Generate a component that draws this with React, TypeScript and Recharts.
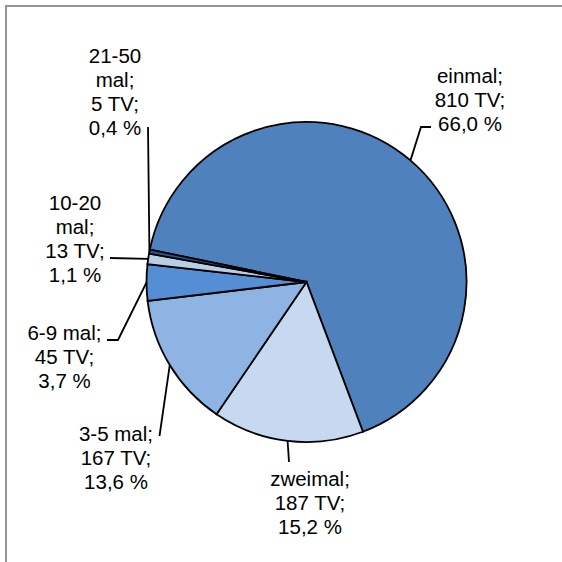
import { PieChart, Pie, Cell } from 'recharts'

const categories = ['einmal', 'zweimal', '3-5 mal', '6-9 mal', '10-20 mal', '21-50 mal']
const counts = [810, 187, 167, 45, 13, 5]
const colors = ['#4F81BD', '#C6D9F1', '#8EB4E3', '#558ED5', '#B9CDE5', '#2A5590']

// label placement relative to pie centre: text centre of first line + leader bend points
const labelLayout = [
  { tx: 163.5, ty: -207, wrap: false, leader: [[114.5, -155], [124.5, -155]] },
  { tx: 3.5, ty: 196, wrap: false, leader: [[-17.5, 180]] },
  { tx: -190.5, ty: 151, wrap: false, leader: [[-147, 154]] },
  { tx: -242, ty: 49.5, wrap: false, leader: [[-188.5, 58], [-199.5, 58]] },
  { tx: -231.5, ty: -80.5, wrap: true, leader: [[-196.5, -24]] },
  { tx: -191.5, ty: -227, wrap: true, leader: [[-158.5, -155]] },
]

const total = counts.reduce((a, b) => a + b, 0)
const data = categories.map((name, i) => ({ name, value: counts[i] }))

const RAD = Math.PI / 180
const LINE_H = 24
const FONT = 20.5

function renderLabel(props: any) {
  const { cx, cy, midAngle, outerRadius, index } = props
  const layout = labelLayout[index]
  const ex = cx + outerRadius * Math.cos(-midAngle * RAD)
  const ey = cy + outerRadius * Math.sin(-midAngle * RAD)
  const pts = [[ex, ey], ...layout.leader.map(([x, y]) => [cx + x, cy + y])]
  const d = pts.map((p, i) => (i === 0 ? 'M' : 'L') + p[0] + ',' + p[1]).join(' ')

  const name = categories[index]
  const pct = ((counts[index] / total) * 100).toFixed(1).replace('.', ',') + ' %'
  const nameLines = layout.wrap ? [name.split(' ')[0], name.split(' ')[1] + ';'] : [name + ';']
  const lines = [...nameLines, counts[index] + ' TV;', pct]
  const x = cx + layout.tx
  const y = cy + layout.ty

  return (
    <g>
      <path d={d} stroke="#000" strokeWidth={1.8} fill="none" />
      <text
        x={x}
        y={y}
        textAnchor="middle"
        dominantBaseline="central"
        fontFamily="'Liberation Sans', Arial, sans-serif"
        fontSize={FONT}
        fill="#000"
      >
        {lines.map((l, i) => (
          <tspan key={i} x={x} dy={i === 0 ? 0 : LINE_H}>
            {l}
          </tspan>
        ))}
      </text>
    </g>
  )
}

export default function App() {
  return (
    <div style={{ position: 'absolute', left: 0, top: 0, width: 562, height: 562, overflow: 'hidden', background: '#fff' }}>
      <svg width={562} height={562} style={{ position: 'absolute', left: 0, top: 0 }}>
        <path d="M6,562 L6,6 L562,6" stroke="#959595" strokeWidth={2} fill="none" />
      </svg>
      <div style={{ position: 'absolute', left: 0, top: 0 }}>
        <PieChart width={562} height={562} margin={{ top: 0, right: 0, bottom: 0, left: 0 }}>
          <Pie
            data={data}
            dataKey="value"
            nameKey="name"
            cx={306.5}
            cy={282}
            outerRadius={160}
            startAngle={168.3}
            endAngle={-191.7}
            stroke="#000"
            strokeWidth={1.8}
            label={renderLabel}
            labelLine={false}
            isAnimationActive={false}
          >
            {data.map((d, i) => (
              <Cell key={d.name} fill={colors[i]} />
            ))}
          </Pie>
        </PieChart>
      </div>
    </div>
  )
}
